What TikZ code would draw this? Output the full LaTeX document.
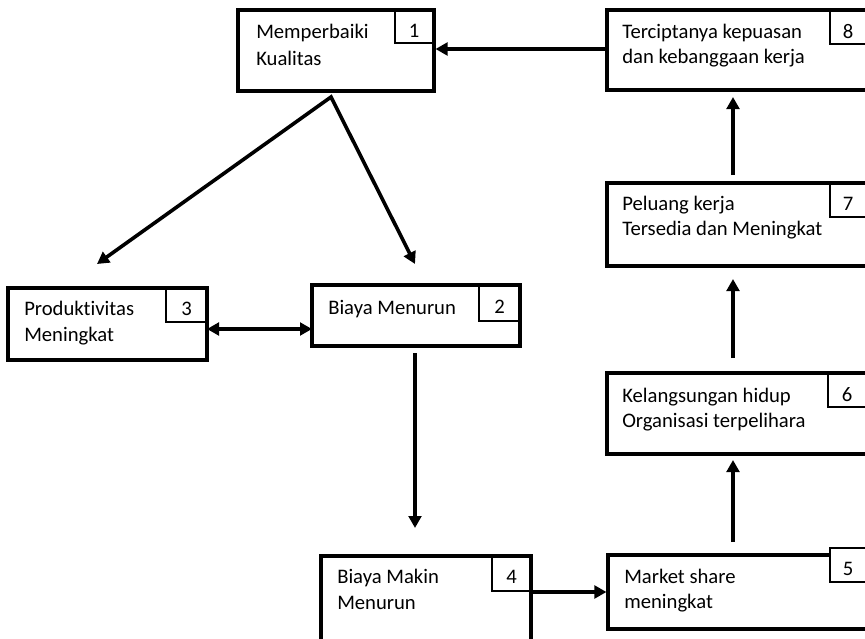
\documentclass[tikz,border=0pt]{standalone}
\usepackage{fontspec}
\setmainfont{Carlito}[Ligatures=NoCommon]
\usetikzlibrary{arrows.meta,fit}
\begin{document}
\begin{tikzpicture}[x=0.75pt,y=-0.75pt,
  box/.style={draw, line width=2.3pt, inner sep=0pt},
  numbox/.style={draw, line width=0.8pt, inner sep=0pt},
  txt/.style={anchor=base west, inner sep=0pt, font=\fontsize{15.5}{18.75}\selectfont},
  num/.style={anchor=base, inner sep=0pt, font=\fontsize{15.5}{18.75}\selectfont},
  arr/.style={line width=2.7pt, -{Triangle[length=9pt,width=9.5pt]}},
  darr/.style={line width=2.7pt, {Triangle[length=9pt,width=9.5pt]}-{Triangle[length=9pt,width=9.5pt]}, miter limit=10}
]
\useasboundingbox (0,0) rectangle (865,639);

% main boxes
\node[box, fit={(238,10) (434,91)}] (b1) {};
\node[box, fit={(312,285) (520,346)}] (b2) {};
\node[box, fit={(8,288) (207,360)}] (b3) {};
\node[box, fit={(321,556) (531,648)}] (b4) {};
\node[box, fit={(608,555) (867,629)}] (b5) {};
\node[box, fit={(607,373) (867,454)}] (b6) {};
\node[box, fit={(607,183) (867,266)}] (b7) {};
\node[box, fit={(607,10) (867,90)}] (b8) {};

% number boxes
\node[numbox, fit={(395,10) (434,43)}] (n1) {};
\node[numbox, fit={(479,285) (520,321)}] (n2) {};
\node[numbox, fit={(166,288) (207,322)}] (n3) {};
\node[numbox, fit={(492,556) (531,591)}] (n4) {};
\node[numbox, fill=white, fit={(830,548) (867,582)}] (n5) {};
\node[numbox, fit={(828,373) (867,407)}] (n6) {};
\node[numbox, fit={(830,183) (867,217)}] (n7) {};
\node[numbox, fit={(830,10) (867,44)}] (n8) {};

% numbers
\node[num] (m1) at (414,37.5) {1};
\node[num] (m2) at (499.5,313) {2};
\node[num] (m3) at (186.5,315.5) {3};
\node[num] (m4) at (511.5,583) {4};
\node[num] (m5) at (848,575) {5};
\node[num] (m6) at (847,401) {6};
\node[num] (m7) at (848,210) {7};
\node[num] (m8) at (848,38) {8};

% box texts
\node[txt] (t1a) at (256,38.5) {Memperbaiki};
\node[txt] (t1b) at (256,65) {Kualitas};
\node[txt] (t2a) at (328,314) {Biaya Menurun};
\node[txt] (t3a) at (24,315.5) {Produktivitas};
\node[txt] (t3b) at (24,341.5) {Meningkat};
\node[txt] (t4a) at (337,583.5) {Biaya Makin};
\node[txt] (t4b) at (337,609.5) {Menurun};
\node[txt] (t5a) at (624,583) {Market share};
\node[txt] (t5b) at (624,608) {meningkat};
\node[txt] (t6a) at (622,402) {Kelangsungan hidup};
\node[txt] (t6b) at (622,427) {Organisasi terpelihara};
\node[txt] (t7a) at (622,210) {Peluang kerja};
\node[txt] (t7b) at (622,235) {Tersedia dan Meningkat};
\node[txt] (t8a) at (622,38.3) {Terciptanya kepuasan};
\node[txt] (t8b) at (622,63.3) {dan kebanggaan kerja};

% connector end points
\coordinate (apex) at (331,97);
\coordinate (to3) at (97,264);
\coordinate (to2) at (415,264);
\coordinate (from2) at (415,353);
\coordinate (to4) at (415,528);
\coordinate (p32) at (207,329);
\coordinate (q32) at (312,329);
\coordinate (from4) at (531,592);
\coordinate (from5) at (733,542);
\coordinate (to6) at (733,460);
\coordinate (from6) at (733,358);
\coordinate (to7) at (733,279);
\coordinate (from7) at (733,175);
\coordinate (to8) at (733,97);

% connectors
\draw[arr] (b8.west |- 0,49) -- (b1.east |- 0,49);
\draw[darr] (to3) -- (apex) -- (to2);
\draw[darr] (p32) -- (q32);
\draw[arr] (from2) -- (to4);
\draw[arr] (from4) -- (b5.west |- from4);
\draw[arr] (from5) -- (to6);
\draw[arr] (from6) -- (to7);
\draw[arr] (from7) -- (to8);
\end{tikzpicture}
\end{document}
